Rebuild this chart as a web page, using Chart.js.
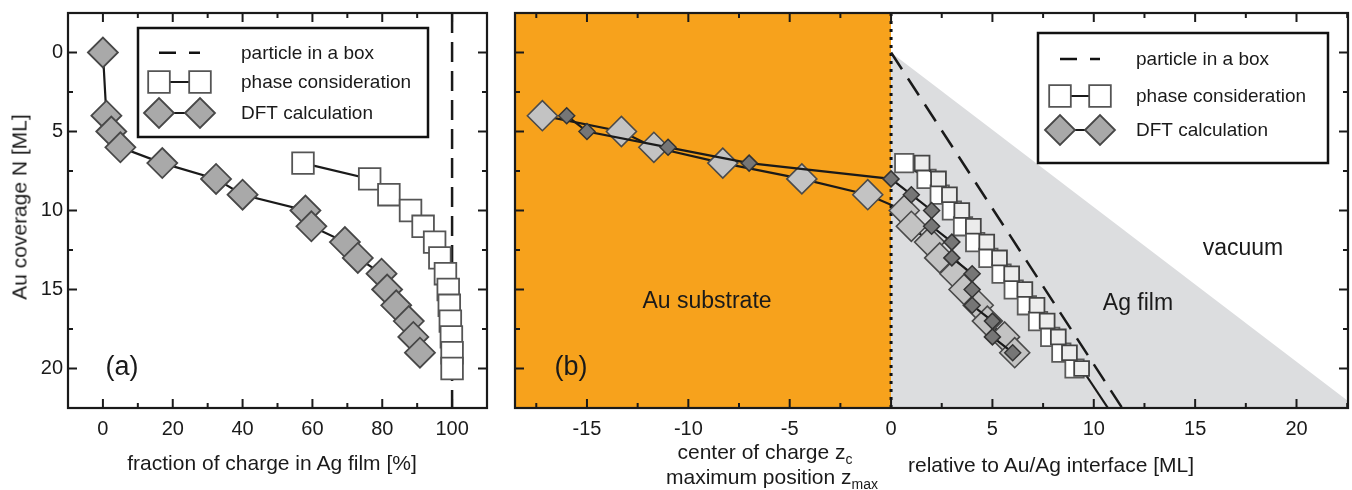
<!DOCTYPE html>
<html>
<head>
<meta charset="utf-8">
<script src="https://cdn.jsdelivr.net/npm/chart.js@4/dist/chart.umd.min.js"></script>
<style>
  body { margin: 0; background: #fff; }
  #page { position: relative; width: 1352px; height: 490px; overflow: hidden;
          font-family: "Liberation Sans", Arial, sans-serif; color: #1a1a1a; }
  #page canvas { position: absolute; top: 0; }
  #chartA { left: 0; }
  #chartB { left: 500px; }
  .lbl { position: absolute; white-space: nowrap; line-height: 1; transform: translate(-50%, -50%); }
  .lbl sub { font-size: 14px; vertical-align: -5px; line-height: 0; }
</style>
</head>
<body>
<div id="page">
  <canvas id="chartA" width="500" height="490"></canvas>
  <canvas id="chartB" width="852" height="490"></canvas>

  <div class="lbl" style="left:19px; top:207px; font-size:21px; transform:translate(-50%,-50%) rotate(-90deg);">Au coverage N [ML]</div>
  <div class="lbl" style="left:272px; top:462px; font-size:21px;">fraction of charge in Ag film [%]</div>
  <div class="lbl" style="left:765px; top:451px; font-size:21px;">center of charge z<sub>c</sub></div>
  <div class="lbl" style="left:772px; top:476px; font-size:21px;">maximum position z<sub>max</sub></div>
  <div class="lbl" style="left:1051px; top:464px; font-size:21px;">relative to Au/Ag interface [ML]</div>

  <div class="lbl" style="left:122px; top:366px; font-size:27px;">(a)</div>
  <div class="lbl" style="left:571px; top:366px; font-size:27px;">(b)</div>
  <div class="lbl" style="left:707px; top:300px; font-size:23px;">Au substrate</div>
  <div class="lbl" style="left:1138px; top:302px; font-size:23px;">Ag film</div>
  <div class="lbl" style="left:1243px; top:247px; font-size:23px;">vacuum</div>
</div>

<script>
const FONT = '"Liberation Sans", Arial, sans-serif';

// ---- panel (a): fraction of charge in the Ag film vs. Au coverage ----
const coverageDftA = [0, 4, 5, 6, 7, 8, 9, 10, 11, 12, 13, 14, 15, 16, 17, 18, 19];
const fractionDftA = [0, 1, 2.4, 5, 17, 32.4, 40, 58, 59.7, 69.3, 73, 79.8, 81.4, 84, 87.6, 88.9, 90.8];
const coveragePhaseA = [7, 8, 9, 10, 11, 12, 13, 14, 15, 16, 17, 18, 19, 20];
const fractionPhaseA = [57.3, 76.4, 81.9, 88.1, 91.7, 95, 96.5, 98.1, 98.9, 99.2, 99.5, 99.8, 100, 100];
const coverageBoxA = [-2.5, 22.5];
const fractionBoxA = [100, 100];
const xTicksA = [0, 20, 40, 60, 80, 100];

// ---- panel (b): z_c and z_max relative to the Au/Ag interface ----
const coverageDftB = [4, 5, 6, 7, 8, 9, 10, 11, 12, 13, 14, 15, 16, 17, 18, 19];
const centreDftB = [-17.2, -13.3, -11.7, -8.3, -4.4, -1.15, 0.65, 1.0, 1.9, 2.4, 3.15, 3.6, 4.3, 4.75, 5.6, 6.1];
const maxDftB = [-16, -15, -11, -7, 0, 1, 2, 2, 3, 3, 4, 4, 4, 5, 5, 6];
const coveragePhaseB = [7, 8, 9, 10, 11, 12, 13, 14, 15, 16, 17, 18, 19, 20];
const centrePhaseB = [0.65, 1.75, 2.4, 3.0, 3.55, 4.15, 4.8, 5.45, 6.05, 6.7, 7.25, 7.85, 8.4, 9.05];
const maxPhaseB = [1.53, 2.34, 2.88, 3.49, 4.06, 4.72, 5.35, 5.95, 6.6, 7.2, 7.7, 8.25, 8.8, 9.4];
const coveragePhaseTailB = [20, 22.5];
const maxPhaseTailB = [9.4, 10.7];
const coverageBoxB = [0, 22.5];
const centreBoxB = [0, 11.4];
const coverageFilmB = [0, 22.5];
const edgeFilmB = [0, 23.0];
const coverageSubstrateB = [-2.5, -2.5];
const edgeSubstrateB = [-20, 0];
const coverageInterfaceB = [-2.5, 22.5];
const edgeInterfaceB = [0, 0];
const xTicksB = [-15, -10, -5, 0, 5, 10, 15, 20];

const yTicks = [0, 5, 10, 15, 20];
const yMin = -2.5, yMax = 22.5;

function points(xs, ys) {
  return xs.map((x, i) => ({ x: x, y: ys[i] }));
}

function minorTicks(majors, min, max) {
  const step = majors[1] - majors[0];
  let v = majors[0] - step / 2;
  while (v - step > min) v -= step;
  const out = [];
  for (; v < max; v += step) {
    if (v > min) out.push(v);
  }
  return out;
}

// axis boxes keep a fixed size and no label overhang, so the plot frame lands where we want it
function noOverhang(s) {
  s.paddingLeft = 0; s.paddingRight = 0; s.paddingTop = 0; s.paddingBottom = 0;
}

// inward ticks on all four sides plus the closed frame
const framePlugin = {
  id: 'frame',
  afterDatasetsDraw(chart, args, opts) {
    const { ctx, chartArea: a } = chart;
    const xs = chart.scales.x, ys = chart.scales.y;
    const line = (x1, y1, x2, y2) => {
      ctx.beginPath(); ctx.moveTo(x1, y1); ctx.lineTo(x2, y2); ctx.stroke();
    };
    ctx.save();
    ctx.strokeStyle = '#1a1a1a';
    ctx.lineWidth = 2;
    const xMinor = minorTicks(opts.xMajor, xs.min, xs.max);
    const yMinor = minorTicks(yTicks, ys.min, ys.max);
    opts.xMajor.forEach(v => {
      const p = xs.getPixelForValue(v);
      line(p, a.bottom, p, a.bottom - 9);
      line(p, a.top, p, a.top + 9);
    });
    xMinor.forEach(v => {
      const p = xs.getPixelForValue(v);
      line(p, a.bottom, p, a.bottom - 5);
      line(p, a.top, p, a.top + 5);
    });
    yTicks.forEach(v => {
      const p = ys.getPixelForValue(v);
      line(a.left, p, a.left + 9, p);
      line(a.right, p, a.right - 9, p);
    });
    yMinor.forEach(v => {
      const p = ys.getPixelForValue(v);
      line(a.left, p, a.left + 5, p);
      line(a.right, p, a.right - 5, p);
    });
    ctx.lineWidth = 2.2;
    ctx.strokeRect(a.left, a.top, a.right - a.left, a.bottom - a.top);
    ctx.restore();
  }
};

// boxed key with dashed / square / diamond samples
const keyPlugin = {
  id: 'key',
  afterDraw(chart, args, o) {
    const ctx = chart.ctx;
    const [l, t, r, b] = o.box;
    const [x1, x2] = o.sample;
    ctx.save();
    ctx.fillStyle = '#fff';
    ctx.fillRect(l, t, r - l, b - t);
    ctx.strokeStyle = '#111';
    ctx.lineWidth = 2.5;
    ctx.strokeRect(l, t, r - l, b - t);

    ctx.lineWidth = 2.5;
    ctx.setLineDash([17, 13]);
    ctx.beginPath(); ctx.moveTo(x1, o.rows[0]); ctx.lineTo(x2, o.rows[0]); ctx.stroke();
    ctx.setLineDash([]);

    ctx.lineWidth = 2;
    [1, 2].forEach(i => {
      ctx.strokeStyle = '#1a1a1a';
      ctx.beginPath(); ctx.moveTo(x1, o.rows[i]); ctx.lineTo(x2, o.rows[i]); ctx.stroke();
    });
    const square = { pointStyle: 'rect', radius: 15.3, borderWidth: 1.8, rotation: 0 };
    const diamond = { pointStyle: 'rectRot', radius: 15, borderWidth: 1.8, rotation: 0 };
    ctx.fillStyle = '#fff'; ctx.strokeStyle = '#555'; ctx.lineWidth = 1.8;
    [x1, x2].forEach(x => Chart.helpers.drawPoint(ctx, square, x, o.rows[1]));
    ctx.fillStyle = '#a9a9a9'; ctx.strokeStyle = '#474747';
    [x1, x2].forEach(x => Chart.helpers.drawPoint(ctx, diamond, x, o.rows[2]));

    ctx.fillStyle = '#1a1a1a';
    ctx.font = '19px ' + FONT;
    ctx.textBaseline = 'middle';
    o.labels.forEach((txt, i) => ctx.fillText(txt, o.textX, o.rows[i] + 1));
    ctx.restore();
  }
};

const keyLabels = ['particle in a box', 'phase consideration', 'DFT calculation'];

function xAxis(min, max, tickValues) {
  return {
    type: 'linear', min: min, max: max,
    grid: { display: false, drawTicks: false },
    border: { display: false },
    ticks: { font: { family: FONT, size: 20 }, color: '#1a1a1a', padding: 9 },
    afterBuildTicks: s => { s.ticks = tickValues.map(v => ({ value: v })); },
    afterFit: s => { s.height = 82; noOverhang(s); }
  };
}

function lineSet(data, extra) {
  return Object.assign({
    data: data,
    borderColor: '#1a1a1a',
    borderWidth: 2.2,
    pointRadius: 0,
    fill: false,
    tension: 0
  }, extra);
}

new Chart(document.getElementById('chartA'), {
  type: 'line',
  data: {
    datasets: [
      lineSet(points(fractionDftA, coverageDftA), {
        pointStyle: 'rectRot', pointRadius: 15,
        pointBackgroundColor: '#a9a9a9', pointBorderColor: '#474747', pointBorderWidth: 1.8
      }),
      lineSet(points(fractionPhaseA, coveragePhaseA), {
        pointStyle: 'rect', pointRadius: 15.3,
        pointBackgroundColor: '#fff', pointBorderColor: '#555', pointBorderWidth: 1.8
      }),
      lineSet(points(fractionBoxA, coverageBoxA), { borderWidth: 2.5, borderDash: [20, 9] })
    ]
  },
  options: {
    responsive: false,
    animation: false,
    layout: { autoPadding: false, padding: { top: 13, right: 13, left: 0, bottom: 0 } },
    scales: {
      x: xAxis(-10, 110, xTicksA),
      y: {
        type: 'linear', reverse: true, min: yMin, max: yMax,
        grid: { display: false, drawTicks: false },
        border: { display: false },
        ticks: { font: { family: FONT, size: 20 }, color: '#1a1a1a', padding: 5 },
        afterBuildTicks: s => { s.ticks = yTicks.map(v => ({ value: v })); },
        afterFit: s => { s.width = 68; noOverhang(s); }
      }
    },
    plugins: {
      legend: { display: false },
      tooltip: { enabled: false },
      frame: { xMajor: xTicksA },
      key: { box: [138, 28, 428, 137], rows: [52.7, 82, 113], sample: [159, 200], textX: 241, labels: keyLabels }
    }
  },
  plugins: [framePlugin, keyPlugin]
});

new Chart(document.getElementById('chartB'), {
  type: 'line',
  data: {
    datasets: [
      lineSet(points(maxDftB, coverageDftB), {
        pointStyle: 'rectRot', pointRadius: 8,
        pointBackgroundColor: '#767676', pointBorderColor: '#333', pointBorderWidth: 1.5
      }),
      lineSet(points(centreDftB, coverageDftB), {
        pointStyle: 'rectRot', pointRadius: 15,
        pointBackgroundColor: '#c3c3c3', pointBorderColor: '#4a4a4a', pointBorderWidth: 1.6
      }),
      lineSet(points(maxPhaseB, coveragePhaseB), {
        pointStyle: 'rect', pointRadius: 10.5,
        pointBackgroundColor: '#ececec', pointBorderColor: '#444', pointBorderWidth: 1.8
      }),
      lineSet(points(centrePhaseB, coveragePhaseB), {
        pointStyle: 'rect', pointRadius: 13,
        pointBackgroundColor: '#fff', pointBorderColor: '#5a5a5a', pointBorderWidth: 1.8
      }),
      lineSet(points(maxPhaseTailB, coveragePhaseTailB)),
      lineSet(points(centreBoxB, coverageBoxB), { borderWidth: 2.5, borderDash: [20, 11] }),
      lineSet(points(edgeInterfaceB, coverageInterfaceB), { borderWidth: 3, borderDash: [3, 5], borderColor: '#111' }),
      lineSet(points(edgeFilmB, coverageFilmB), {
        borderWidth: 0, borderColor: 'rgba(0,0,0,0)', backgroundColor: '#dcdddf', fill: { value: yMax }
      }),
      lineSet(points(edgeSubstrateB, coverageSubstrateB), {
        borderWidth: 0, borderColor: 'rgba(0,0,0,0)', backgroundColor: '#f7a21c', fill: { value: yMax }
      })
    ]
  },
  options: {
    responsive: false,
    animation: false,
    layout: { autoPadding: false, padding: { top: 13, right: 4, left: 15, bottom: 0 } },
    scales: {
      x: xAxis(-18.55, 22.54, xTicksB),
      y: { type: 'linear', reverse: true, min: yMin, max: yMax, display: false }
    },
    plugins: {
      legend: { display: false },
      tooltip: { enabled: false },
      frame: { xMajor: xTicksB },
      key: { box: [538, 33, 828, 163], rows: [59, 96, 130], sample: [560, 600], textX: 636, labels: keyLabels }
    }
  },
  plugins: [framePlugin, keyPlugin]
});
</script>
</body>
</html>
